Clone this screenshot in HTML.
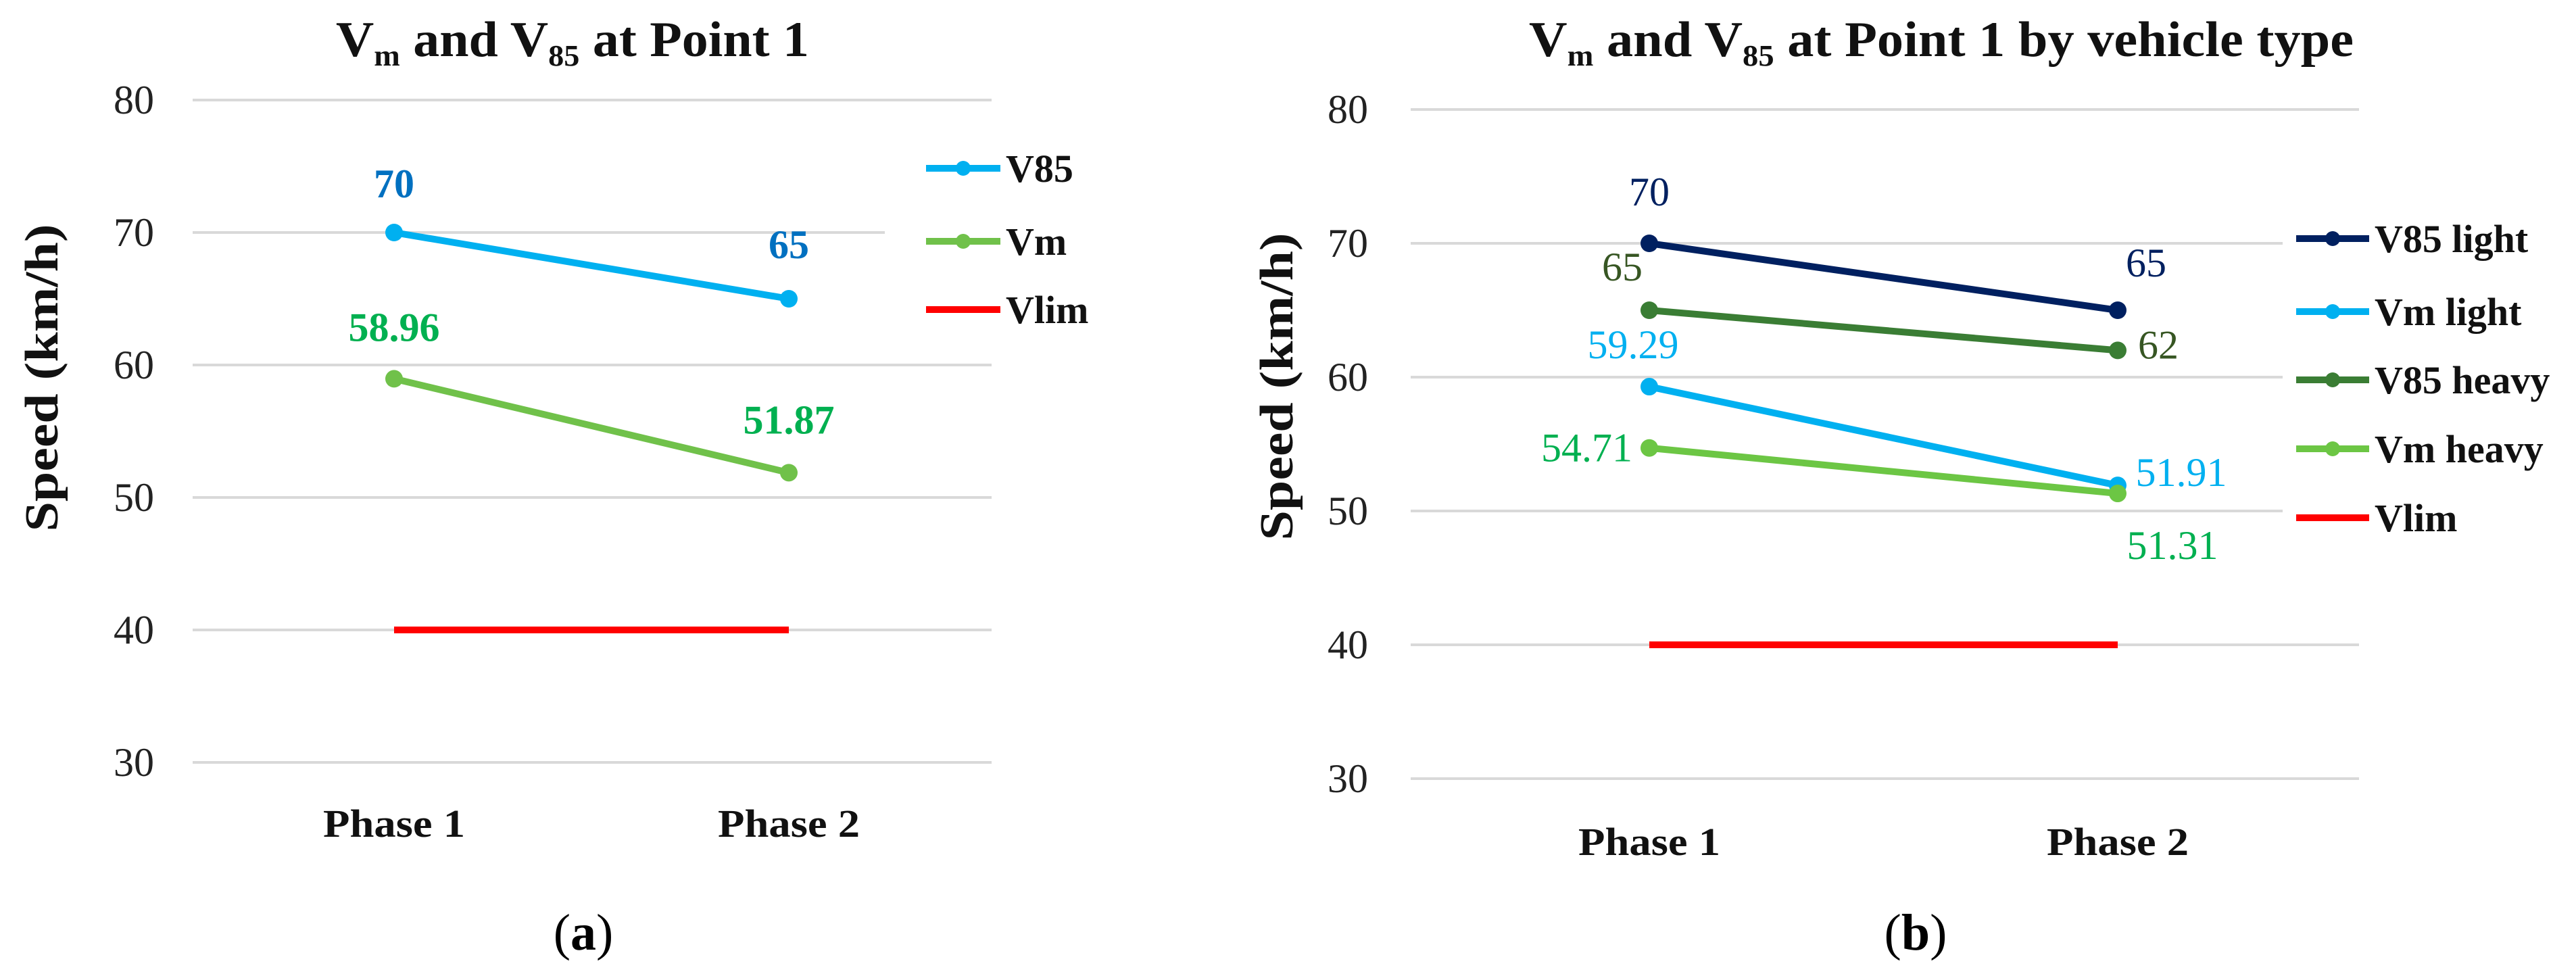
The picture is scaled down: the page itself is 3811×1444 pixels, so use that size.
<!DOCTYPE html>
<html><head><meta charset="utf-8"><style>
html,body{margin:0;padding:0;background:#fff;}
svg{display:block;font-family:"Liberation Serif",serif;}
</style></head><body>
<svg id="fig" width="3811" height="1444" viewBox="0 0 3811 1444" xmlns="http://www.w3.org/2000/svg">
<rect width="3811" height="1444" fill="#fff"/>
<g id="chartA"></g>
<g id="chartB"></g>
</svg>
<script>
const categories = ["Phase 1", "Phase 2"];
const yTicks = [30, 40, 50, 60, 70, 80];
// Chart (a)
const aV85 = [70, 65];
const aVm = [58.96, 51.87];
const aVlim = [40, 40];
const aV85Labels = ["70", "65"];
const aVmLabels = ["58.96", "51.87"];
// Chart (b)
const bV85Light = [70, 65];
const bVmLight = [59.29, 51.91];
const bV85Heavy = [65, 62];
const bVmHeavy = [54.71, 51.31];
const bVlim = [40, 40];
const bV85LightLabels = ["70", "65"];
const bVmLightLabels = ["59.29", "51.91"];
const bV85HeavyLabels = ["65", "62"];
const bVmHeavyLabels = ["54.71", "51.31"];

const NS = "http://www.w3.org/2000/svg";
function mk(parent, tag, attrs, text) {
  const e = document.createElementNS(NS, tag);
  for (const k in attrs) e.setAttribute(k, attrs[k]);
  if (text !== undefined) e.textContent = text;
  parent.appendChild(e);
  return e;
}

function drawChart(g, cfg) {
  const y = v => cfg.y30 + (v - 30) * (cfg.y80 - cfg.y30) / 50;
  const x = i => cfg.xs[i];
  // gridlines
  yTicks.forEach(t => {
    const short = cfg.shortTicks.indexOf(t) >= 0;
    const l = mk(g, "line", {x1: cfg.gx1, x2: short ? cfg.gxShort : cfg.gx2, y1: y(t), y2: y(t), stroke: "#d9d9d9", "stroke-width": 4});
    
    
    const tl = mk(g, "text", {x: cfg.tickX, y: y(t) + 20, "text-anchor": "end", "font-size": 60, fill: "#222"}, String(t));
    
    
  });
  // category labels
  categories.forEach((c, i) => {
    const t = mk(g, "text", {x: x(i), y: cfg.catY, "text-anchor": "middle", "font-size": 58, "font-weight": "bold", textLength: 210, lengthAdjust: "spacingAndGlyphs", fill: "#111"}, c);
    
    
  });
  // axis title
  const at = mk(g, "text", {x: 0, y: 0, "text-anchor": "middle", "font-size": 70, "font-weight": "bold", textLength: 455, lengthAdjust: "spacingAndGlyphs", fill: "#111", transform: "translate(" + cfg.ytX + "," + cfg.ytY + ") rotate(-90)"}, "Speed (km/h)");
  
  
  // title
  const tt = mk(g, "text", {x: cfg.titleX, y: 83, "text-anchor": "start", "font-size": 74, "font-weight": "bold", fill: "#111", textLength: cfg.titleLen, lengthAdjust: "spacingAndGlyphs"});
  
  
  mk(tt, "tspan", {}, "V");
  mk(tt, "tspan", {dy: 14, "font-size": 44}, "m");
  mk(tt, "tspan", {dy: -14}, " and V");
  mk(tt, "tspan", {dy: 14, "font-size": 44}, "85");
  mk(tt, "tspan", {dy: -14}, " at Point 1" + cfg.titleExtra);
  // series
  cfg.series.forEach(s => {
    const sg = mk(g, "g", {});
    
    
    const pts = s.values.map((v, i) => x(i) + "," + y(v)).join(" ");
    const pl = mk(sg, "polyline", {points: pts, fill: "none", stroke: s.color, "stroke-width": s.w || 10, "stroke-linecap": s.marker ? "round" : "butt"});
    
    
    if (s.marker) s.values.forEach((v, i) => {
      const c = mk(sg, "circle", {cx: x(i), cy: y(v), r: 13, fill: s.color});
      
      
    });
    if (s.labels) s.labels.forEach((lab, i) => {
      const o = s.off[i];
      const t = mk(sg, "text", {x: x(i) + o[0], y: y(s.values[i]) + o[1], "text-anchor": o[2] || "middle", "font-size": cfg.lblSize, "font-weight": cfg.lblWeight, fill: s.lcolor}, lab);
      
      
    });
    // legend
    const lg = mk(g, "g", {});
    
    
    mk(lg, "line", {x1: cfg.legX1, x2: cfg.legX2, y1: s.legY, y2: s.legY, stroke: s.color, "stroke-width": 10});
    if (s.marker) mk(lg, "circle", {cx: (cfg.legX1 + cfg.legX2) / 2, cy: s.legY, r: 11, fill: s.color});
    mk(lg, "text", {x: cfg.legX2 + 8, y: s.legY + 20, "font-size": 58, "font-weight": "bold", fill: "#111"}, s.name);
  });
  // panel letter
  const pl = mk(g, "text", {x: cfg.letterX, y: 1405, "text-anchor": "middle", "font-size": 76, fill: "#000"});
  
  
  mk(pl, "tspan", {}, "(");
  mk(pl, "tspan", {"font-weight": "bold"}, cfg.letter);
  mk(pl, "tspan", {}, ")");
}

drawChart(document.getElementById("chartA"), {
  y30: 1128, y80: 148, xs: [583, 1167], gx1: 285, gx2: 1467, gxShort: 1309, shortTicks: [70],
  tickX: 228, catY: 1238, ytX: 85, ytY: 559, titleX: 497, titleLen: 700, titleExtra: "",
  legX1: 1370, legX2: 1480, letter: "a", letterX: 863, lblSize: 60, lblWeight: "bold",
  series: [
    {key: "v85", name: "V85", values: aV85, color: "#00b0f0", lcolor: "#0070c0", marker: true, labels: aV85Labels, off: [[0, -52], [0, -60]], legY: 249},
    {key: "vm", name: "Vm", values: aVm, color: "#70c14a", lcolor: "#00b050", marker: true, labels: aVmLabels, off: [[0, -56], [0, -58]], legY: 357},
    {key: "vlim", name: "Vlim", values: aVlim, color: "#ff0000", marker: false, legY: 458}
  ]
});

drawChart(document.getElementById("chartB"), {
  y30: 1152, y80: 162, xs: [2440, 3133], gx1: 2087, gx2: 3490, gxShort: 3377, shortTicks: [50, 60, 70],
  tickX: 2024, catY: 1265, ytX: 1912, ytY: 572, titleX: 2262, titleLen: 1220, titleExtra: " by vehicle type",
  legX1: 3397, legX2: 3505, letter: "b", letterX: 2834, lblSize: 60, lblWeight: "normal",
  series: [
    {key: "v85-light", name: "V85 light", values: bV85Light, color: "#002060", lcolor: "#002060", marker: true, labels: bV85LightLabels, off: [[0, -56], [42, -50]], legY: 353},
    {key: "vm-light", name: "Vm light", values: bVmLight, color: "#00b0f0", lcolor: "#00b0f0", marker: true, labels: bVmLightLabels, off: [[-24, -42], [94, 1]], legY: 461},
    {key: "v85-heavy", name: "V85 heavy", values: bV85Heavy, color: "#3a7d34", lcolor: "#375623", marker: true, labels: bV85HeavyLabels, off: [[-10, -44, "end"], [60, 12]], legY: 562},
    {key: "vm-heavy", name: "Vm heavy", values: bVmHeavy, color: "#6cc644", lcolor: "#00b050", marker: true, labels: bVmHeavyLabels, off: [[-25, 20, "end"], [81, 97]], legY: 664},
    {key: "vlim", name: "Vlim", values: bVlim, color: "#ff0000", marker: false, legY: 766}
  ]
});
</script>
</body></html>
